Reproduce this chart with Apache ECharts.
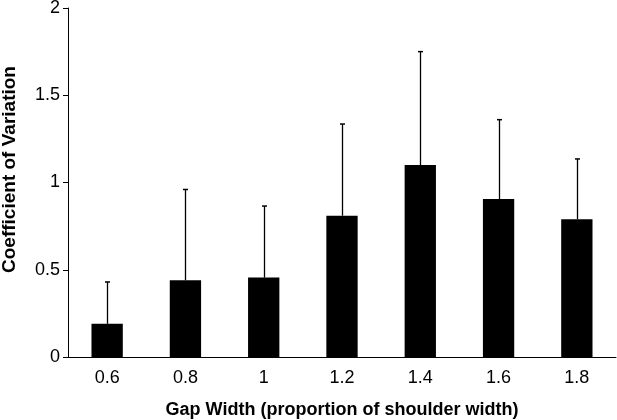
<!DOCTYPE html>
<html>
<head>
<meta charset="utf-8">
<script src="https://cdn.jsdelivr.net/npm/echarts@6/dist/echarts.min.js"></script>
<style>
  html, body { margin: 0; padding: 0; background: #fff; }
  #chart { width: 617px; height: 420px; }
</style>
</head>
<body>
<div id="chart"></div>
<script>
// gap widths on the x axis
const gapWidths = ['0.6', '0.8', '1', '1.2', '1.4', '1.6', '1.8'];
// mean coefficient of variation (bar heights)
const cvMeans = [0.19, 0.44, 0.455, 0.81, 1.10, 0.905, 0.79];
// top of the error bar (mean + sd)
const cvUpper = [0.43, 0.96, 0.865, 1.335, 1.75, 1.36, 1.135];

const font = 'Liberation Sans, Arial, sans-serif';

const chart = echarts.init(document.getElementById('chart'));
chart.setOption({
  animation: false,
  grid: { left: 68, right: 1, top: 8, bottom: 63, outerBoundsMode: 'none' },
  xAxis: {
    type: 'category',
    data: gapWidths,
    name: 'Gap Width (proportion of shoulder width)',
    nameLocation: 'middle',
    nameGap: 44,
    nameTextStyle: { color: '#000', fontSize: 18, fontWeight: 'bold', fontFamily: font },
    axisLine: { lineStyle: { color: '#000', width: 1 } },
    axisTick: { length: 5, lineStyle: { color: '#000' } },
    axisLabel: { color: '#000', fontSize: 18, fontFamily: font, margin: 12 },
  },
  yAxis: {
    type: 'value',
    min: 0,
    max: 2,
    interval: 0.5,
    name: 'Coefficient of Variation',
    nameLocation: 'middle',
    nameGap: 49,
    nameTextStyle: {
      color: '#000', fontSize: 19, fontWeight: 'bold', fontFamily: font,
      padding: [0, 0, 0, 26],
    },
    axisLine: { show: true, lineStyle: { color: '#000', width: 1 } },
    axisTick: { show: true, length: 5, lineStyle: { color: '#000' } },
    axisLabel: { color: '#000', fontSize: 18, fontFamily: font, margin: 8 },
    splitLine: { show: false },
  },
  series: [
    {
      type: 'bar',
      data: cvMeans,
      barWidth: '40%',
      itemStyle: { color: '#000' },
    },
    {
      // error bars: line from bar top up to the upper value, with a short cap
      type: 'custom',
      data: cvUpper.map((v, i) => [i, cvMeans[i], v]),
      renderItem: (params, api) => {
        const base = api.coord([api.value(0), api.value(1)]);
        const top = api.coord([api.value(0), api.value(2)]);
        const x = Math.round(base[0]) + 0.5;
        return {
          type: 'group',
          children: [
            {
              type: 'line',
              shape: { x1: x, y1: base[1], x2: x, y2: top[1] },
              style: { stroke: '#000', lineWidth: 1.3 },
            },
            {
              type: 'line',
              shape: { x1: x - 2.5, y1: top[1], x2: x + 2.5, y2: top[1] },
              style: { stroke: '#000', lineWidth: 1.5 },
            },
          ],
        };
      },
      z: 3,
    },
  ],
});
</script>
</body>
</html>
